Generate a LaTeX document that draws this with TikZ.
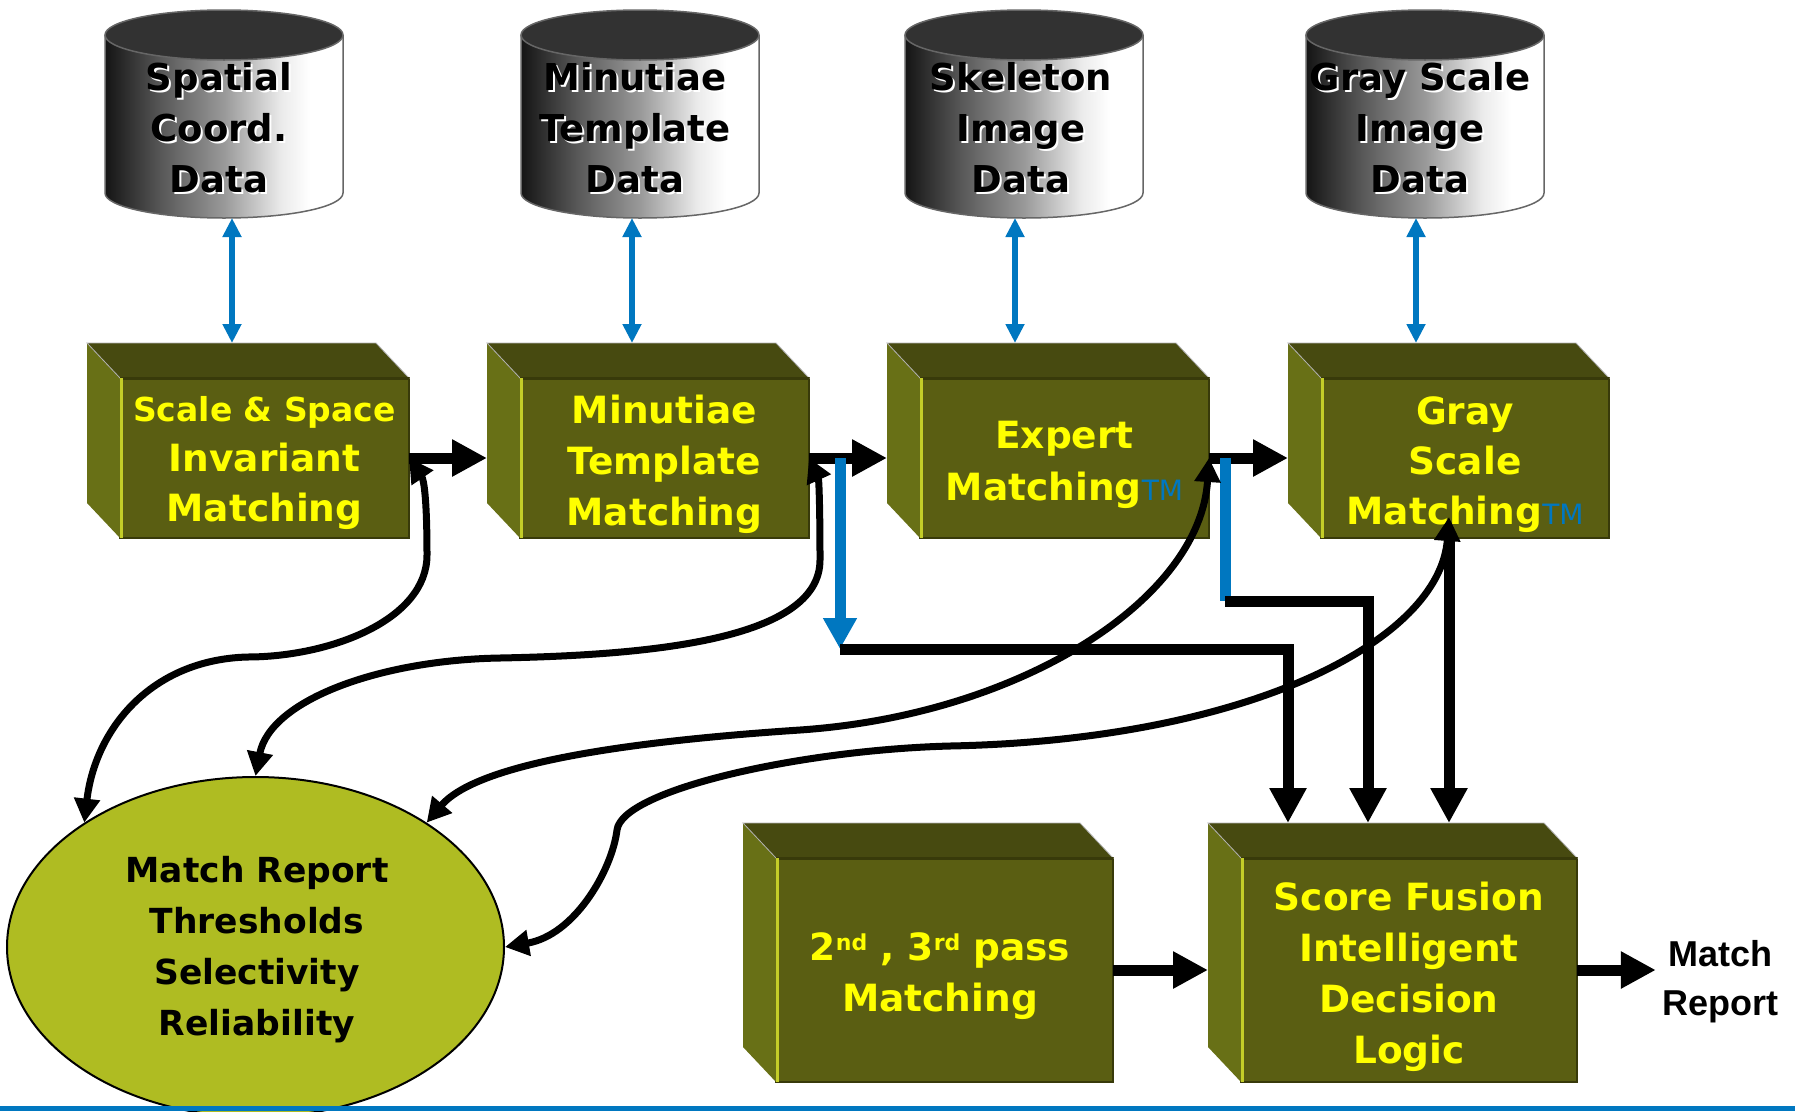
\documentclass[tikz,border=0pt]{standalone}
\usepackage{fontspec}
\setmainfont{DejaVu Sans}
\newfontfamily\libsans{Liberation Sans}
\usetikzlibrary{arrows.meta,shapes.geometric}
\definecolor{gfrontc}{RGB}{90,94,18}
\definecolor{gtopc}{RGB}{71,74,16}
\definecolor{gsidec}{RGB}{104,112,22}
\definecolor{ghilite}{RGB}{196,206,40}
\definecolor{gedge}{RGB}{56,58,10}
\definecolor{ellc}{RGB}{175,188,34}
\definecolor{blc}{RGB}{0,119,192}
\definecolor{yelc}{RGB}{255,255,0}
\definecolor{cyltopc}{RGB}{50,50,50}
\pgfdeclarehorizontalshading{cylshade}{100bp}{color(0bp)=(black!92); color(25bp)=(black!92); color(37bp)=(black!65); color(50bp)=(black!40); color(62bp)=(black!8); color(68bp)=(white); color(100bp)=(white)}
\newcommand\mytm{{\mdseries\color{blc}\fontsize{28}{28}\selectfont TM}}
\newcommand\mysup[1]{\raisebox{10pt}{\fontsize{22}{22}\selectfont #1}}
\newcommand\dbcyl[1]{%
  \shade[shading=cylshade] (#1-119,35) -- (#1-119,193) arc[start angle=180,end angle=0,x radius=119,y radius=25] -- (#1+119,35) -- cycle;
  \draw[cylline] (#1-119,35) -- (#1-119,193) arc[start angle=180,end angle=0,x radius=119,y radius=25] -- (#1+119,35);
  \filldraw[cylline, fill=cyltopc] (#1,35) ellipse[x radius=119,y radius=25];
}
\newcommand\gbox[5]{%
  \node[gfront, minimum width=#4pt, minimum height=#5pt] (#1) at (#2,#3) {};
  \fill[gside] (#1.north west) -- ++(-33,-35) -- ([shift={(-33,-35)}]#1.south west) -- (#1.south west) -- cycle;
  \filldraw[gtop] (#1.north west) -- ++(-33,-35) -- ([shift={(-33,-35)}]#1.north east) -- (#1.north east) -- cycle;
  \draw[gedge, line width=3pt] (#1.north west) -- (#1.north east);
  \draw[ghilite, line width=2.5pt] ([xshift=1.25pt]#1.north west) -- ([xshift=1.25pt]#1.south west);
}
\begin{document}
\begin{tikzpicture}[x=1pt,y=-1pt,
  cylline/.style={draw=gray!80!black, line width=1.5pt},
  cyltxt/.style={font=\bfseries\fontsize{37}{51}\selectfont, align=center, inner sep=0pt, anchor=north},
  gfront/.style={draw=gedge, line width=1.2pt, fill=gfrontc, inner sep=0pt, outer sep=0pt},
  gtop/.style={fill=gtopc, draw=gray!60, line width=0.8pt},
  gside/.style={fill=gsidec},
  gtxt/.style={text=yelc, font=\bfseries\fontsize{37.5}{51}\selectfont, align=center, inner sep=0pt, anchor=north},
  barrow/.style={line width=11pt, -{Triangle[length=35pt,width=35pt]}},
  blarrow/.style={draw=blc, line width=11pt, -{Triangle[length=31pt,width=32pt]}},
  blline/.style={draw=blc, line width=11pt},
  dbl/.style={draw=blc, line width=6pt, {Triangle[length=19pt,width=18pt]}-{Triangle[length=19pt,width=18pt]}},
  fb/.style={line width=7pt, {Triangle[length=24pt,width=25pt]}-{Triangle[length=24pt,width=25pt]}},
]
\useasboundingbox (0,0) rectangle (1795,1111);
\fill[white] (0,0) rectangle (1795,1111);

% databases
\dbcyl{224}
\dbcyl{640}
\dbcyl{1024}
\dbcyl{1425}
\node[cyltxt,text=white] (cyt1s) at (221,60.5) {\rule{0pt}{32pt}Spatial\\Coord.\\Data};
\node[cyltxt] (cyt1) at (219,58.5) {\rule{0pt}{32pt}Spatial\\Coord.\\Data};
\node[cyltxt,text=white] (cyt2s) at (637,60.5) {\rule{0pt}{32pt}Minutiae\\Template\\Data};
\node[cyltxt] (cyt2) at (635,58.5) {\rule{0pt}{32pt}Minutiae\\Template\\Data};
\node[cyltxt,text=white] (cyt3s) at (1023,60.5) {\rule{0pt}{32pt}Skeleton\\Image\\Data};
\node[cyltxt] (cyt3) at (1021,58.5) {\rule{0pt}{32pt}Skeleton\\Image\\Data};
\node[cyltxt,text=white] (cyt4s) at (1422,60.5) {\rule{0pt}{32pt}Gray Scale\\Image\\Data};
\node[cyltxt] (cyt4) at (1420,58.5) {\rule{0pt}{32pt}Gray Scale\\Image\\Data};

% blue double arrows
\coordinate (u1) at (232,218); \coordinate (l1) at (232,343);
\coordinate (u2) at (632,218); \coordinate (l2) at (632,343);
\coordinate (u3) at (1015,218); \coordinate (l3) at (1015,343);
\coordinate (u4) at (1416,218); \coordinate (l4) at (1416,343);
\draw[dbl] (u1) -- (l1);
\draw[dbl] (u2) -- (l2);
\draw[dbl] (u3) -- (l3);
\draw[dbl] (u4) -- (l4);

% boxes
\gbox{sim}{264.5}{458}{289}{160}
\gbox{mtm}{664.5}{458}{289}{160}
\gbox{exp}{1064.5}{458}{289}{160}
\gbox{gsm}{1465}{458}{288}{160}
\gbox{pass}{944.5}{970}{337}{224}
\gbox{fus}{1409}{970}{336}{224}

\node[gtxt, font=\bfseries\fontsize{37.5}{50}\selectfont] (simt) at (264.5,389) {\rule{0pt}{32pt}{\fontsize{33}{50}\selectfont Scale \& Space}\\Invariant\\Matching};
\node[gtxt] (mtmt) at (664.5,391) {\rule{0pt}{32pt}Minutiae\\Template\\Matching};
\node[gtxt, font=\bfseries\fontsize{37.5}{52}\selectfont] (expt) at (1064.5,416) {\rule{0pt}{32pt}Expert\\Matching\mytm};
\node[gtxt, font=\bfseries\fontsize{37.5}{50}\selectfont] (gsmt) at (1465,392) {\rule{0pt}{32pt}Gray\\Scale\\Matching\mytm};
\node[gtxt] (passt) at (940,928) {\rule{0pt}{32pt}2\mysup{nd} , 3\mysup{rd} pass\\Matching};
\node[gtxt] (fust) at (1409,878) {\rule{0pt}{32pt}Score Fusion\\Intelligent\\Decision\\Logic};

% report ellipse
\node[ellipse, draw=black, line width=2pt, fill=ellc, minimum width=497pt, minimum height=340pt, inner sep=0pt] (rep) at (255.5,947) {};
\node[font=\bfseries\fontsize{34.5}{51}\selectfont, align=center, inner sep=0pt, anchor=north] (rept) at (257,850) {\rule{0pt}{32pt}Match Report\\Thresholds\\Selectivity\\Reliability};

\node[font=\libsans\bfseries\fontsize{36}{49}\selectfont, align=center, inner ysep=0pt, inner xsep=6pt, anchor=north] (mr) at (1720,936) {\rule{0pt}{30pt}Match\\Report};

% main flow arrows
\draw[barrow] (sim.east) -- ([xshift=-33pt]mtm.west);
\draw[barrow] (mtm.east) -- ([xshift=-33pt]exp.west);
\draw[barrow] (exp.east) -- ([xshift=-33pt]gsm.west);
\draw[barrow] (pass.east) -- ([xshift=-33pt]fus.west);
\draw[barrow] (fus.east) -- (fus.east -| mr.west);

% outputs to score fusion
\coordinate (b1) at (840,458); \coordinate (b2) at (840,649); \coordinate (f1) at (1288,823);
\coordinate (c1) at (1225,458); \coordinate (c2) at (1225,601); \coordinate (f2) at (1368,823);
\coordinate (d1) at (1449,538); \coordinate (f3) at (1449,823);
\draw[blarrow] (b1) -- (b2);
\draw[barrow] (b2) -| (f1);
\draw[blline] (c1) -- (c2);
\draw[barrow] (c2) -| (f2);
\draw[barrow] (d1) -- (f3);

% feedback curves
\coordinate (d4) at (1449,517);
\draw[fb] (sim.east) .. controls (424,480) and (427,500) .. (427,555) .. controls (427,620) and (330,657) .. (247,657) .. controls (150,660) and (95,730) .. (rep.144);
\draw[fb] (mtm.east) .. controls (819,480) and (820,510) .. (820,560) .. controls (820,640) and (650,655) .. (500,658) .. controls (380,660) and (270,700) .. (rep.90);
\draw[fb] (exp.east) .. controls (1200,600) and (1020,715) .. (800,730) .. controls (650,740) and (480,760) .. (rep.36);
\draw[fb] (d4) .. controls (1440,640) and (1250,740) .. (950,746) .. controls (800,750) and (622,790) .. (617,830) .. controls (612,870) and (575,935) .. (rep.0);

% bottom rule
\fill[blc] (0,1106) rectangle (1795,1111);
\end{tikzpicture}
\end{document}
